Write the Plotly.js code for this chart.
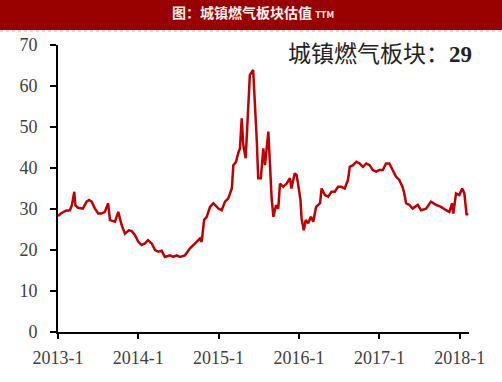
<!DOCTYPE html>
<html>
<head>
<meta charset="utf-8">
<script src="https://cdn.plot.ly/plotly-3.0.1.min.js"></script>
<style>html,body{margin:0;padding:0;background:#fff;}#chart{width:502px;height:382px;}</style>
</head>
<body>
<div id="chart"></div>
<script>
// Sector valuation (PE TTM) of city gas sector
var dates = [
"2013-01-01","2013-01-14","2013-02-06","2013-02-24","2013-03-05","2013-03-16","2013-03-21","2013-04-02","2013-04-24","2013-05-11",
"2013-05-22","2013-06-03","2013-06-18","2013-07-03","2013-07-18","2013-08-02","2013-08-17","2013-08-25","2013-09-17","2013-10-02",
"2013-10-17","2013-11-01","2013-11-19","2013-12-02","2013-12-17","2014-01-01","2014-01-16","2014-01-31","2014-02-14","2014-03-03",
"2014-03-18","2014-04-02","2014-04-17","2014-05-02","2014-05-25","2014-06-09","2014-06-24","2014-07-09","2014-08-01","2014-08-24",
"2014-09-16","2014-10-08","2014-10-16","2014-10-27","2014-11-08","2014-11-23","2014-12-08","2014-12-31","2015-01-15","2015-01-30",
"2015-02-14","2015-03-02","2015-03-09","2015-03-21","2015-03-31","2015-04-08","2015-04-16","2015-04-23","2015-05-04","2015-05-16",
"2015-05-23","2015-06-07","2015-06-15","2015-06-23","2015-06-30","2015-07-12","2015-07-23","2015-07-31","2015-08-15","2015-08-23",
"2015-08-30","2015-09-07","2015-09-19","2015-09-29","2015-10-07","2015-10-22","2015-11-06","2015-11-21","2015-11-28","2015-12-13",
"2015-12-21","2015-12-28","2016-01-08","2016-01-13","2016-01-23","2016-02-01","2016-02-12","2016-02-24","2016-03-06","2016-03-19",
"2016-04-06","2016-04-13","2016-04-28","2016-05-13","2016-05-28","2016-06-12","2016-06-27","2016-07-12","2016-07-27","2016-08-11",
"2016-08-19","2016-09-03","2016-09-18","2016-10-03","2016-10-18","2016-11-02","2016-11-17","2016-12-02","2016-12-17","2017-01-01",
"2017-01-16","2017-01-31","2017-02-15","2017-03-02","2017-03-17","2017-04-01","2017-04-16","2017-04-24","2017-05-02","2017-05-17",
"2017-06-01","2017-06-24","2017-07-09","2017-08-01","2017-08-23","2017-09-15","2017-10-08","2017-10-31","2017-11-15","2017-11-27",
"2017-12-03","2017-12-15","2017-12-30","2018-01-12","2018-01-22","2018-02-01","2018-02-06"
];
var pe = [
28.3,28.9,29.6,29.7,30.9,34.2,30.9,30.3,30.1,31.8,
32.2,31.8,30.1,28.9,28.9,29.3,31.4,27.3,26.9,29.3,
26.1,24.0,24.8,24.6,23.6,22.0,21.2,21.6,22.4,21.6,
20.0,19.6,19.8,18.3,18.7,18.3,18.7,18.3,18.7,20.4,
21.6,22.8,22.0,27.3,28.1,30.5,31.4,30.1,29.7,31.8,
32.6,35.0,40.7,41.5,43.6,44.8,52.1,45.6,42.4,53.3,
62.7,63.9,57.0,47.2,37.5,37.5,44.8,40.7,48.9,39.1,
32.6,28.1,30.9,30.1,36.2,35.4,36.2,37.5,35.0,38.7,
38.3,36.2,32.2,27.7,24.8,27.3,26.5,28.1,26.9,30.5,
31.4,35.0,33.4,33.0,34.2,34.2,35.4,35.4,35.0,37.1,
40.3,40.7,41.5,41.1,40.3,41.1,40.7,39.5,39.1,39.5,
39.5,41.1,41.1,39.5,37.9,37.1,35.4,33.8,31.4,31.0,
30.1,31.0,29.7,30.1,31.8,31.0,30.5,29.7,29.3,31.4,
28.9,33.8,33.4,35.0,33.8,28.5,29.0
];
var xTickVals = ["2013-01-01","2014-01-01","2015-01-01","2016-01-01","2017-01-01","2018-01-01"];
var xTickText = ["2013-1","2014-1","2015-1","2016-1","2017-1","2018-1"];
var yTickVals = [0,10,20,30,40,50,60,70];
var titleText = "图：城镇燃气板块估值 <span style=\"font-size:9px\">TTM</span>";
var noteLabel = "城镇燃气板块：";
var noteValue = "29";

var trace = {
  x: dates, y: pe, type: "scatter", mode: "lines",
  line: {color: "#c00000", width: 2.5},
  hoverinfo: "skip", showlegend: false
};

var plotH = 382 - 45 - 50;
var layout = {
  width: 502, height: 382,
  margin: {l: 58, r: 33, t: 45, b: 50},
  paper_bgcolor: "#ffffff", plot_bgcolor: "#ffffff",
  title: {
    text: titleText,
    font: {family: "Noto Sans CJK SC", size: 14, color: "#fff0f0", weight: "bold"},
    x: 253/502, xanchor: "center", xref: "container",
    y: 1 - 13/382, yanchor: "middle", yref: "container"
  },
  xaxis: {
    type: "date",
    range: ["2013-01-01", "2018-02-12"],
    tickvals: xTickVals, ticktext: xTickText,
    ticks: "outside", ticklen: 5, tickwidth: 2, tickcolor: "#000",
    ticklabelstandoff: 3,
    showline: true, linecolor: "#000", linewidth: 2,
    showgrid: false, zeroline: false,
    tickfont: {family: "Liberation Serif", size: 18, color: "#404040"}
  },
  yaxis: {
    range: [0, 70],
    tickvals: yTickVals,
    ticks: "outside", ticklen: 6, tickwidth: 2, tickcolor: "#000",
    ticklabelstandoff: 9,
    showline: true, linecolor: "#000", linewidth: 2,
    showgrid: false, zeroline: false,
    tickfont: {family: "Liberation Serif", size: 18, color: "#404040"}
  },
  shapes: [
    {type: "rect", xref: "paper", yref: "paper", layer: "below",
     x0: -58/411, x1: (502-58)/411, y0: 1 + 15/plotH, y1: 1 + 45/plotH,
     fillcolor: "#990000", line: {width: 0}},
    {type: "line", xref: "paper", yref: "paper",
     x0: -58/411, x1: (502-58)/411, y0: 1 + 14/plotH, y1: 1 + 14/plotH,
     line: {color: "#d9a0a0", width: 1, dash: "dot"}}
  ],
  annotations: [{
    xref: "paper", yref: "paper",
    x: (474-58)/411, y: 1 - 7/plotH, xanchor: "right", yanchor: "middle",
    showarrow: false,
    text: noteLabel + "<b><span style=\"font-family:'Liberation Serif'\">" + noteValue + "</span></b>",
    font: {family: "Noto Sans CJK SC", size: 23, color: "#222"}
  }]
};

Plotly.newPlot("chart", [trace], layout, {staticPlot: true, displayModeBar: false});
</script>
</body>
</html>
